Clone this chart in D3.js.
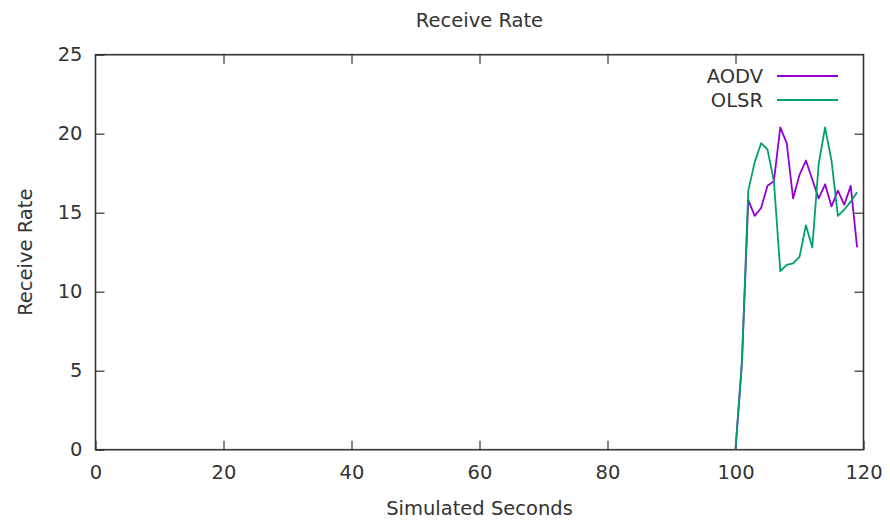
<!DOCTYPE html>
<html>
<head>
<meta charset="utf-8">
<script src="https://cdn.jsdelivr.net/npm/d3@7"></script>
<style>
  body { margin: 0; background: #fff; }
  text { font-family: "DejaVu Sans", sans-serif; fill: #333; }
</style>
</head>
<body>
<svg id="chart" width="890" height="521"></svg>
<script>
// data
const seconds = [100, 101, 102, 103, 104, 105, 106, 107, 108, 109, 110, 111, 112, 113, 114, 115, 116, 117, 118, 119];
const aodv = [0, 5.5, 15.8, 14.8, 15.3, 16.7, 17.0, 20.4, 19.4, 15.9, 17.4, 18.3, 17.1, 15.9, 16.8, 15.4, 16.4, 15.5, 16.7, 12.8];
const olsr = [0, 5.5, 16.4, 18.2, 19.4, 19.0, 17.0, 11.3, 11.7, 11.8, 12.2, 14.2, 12.8, 18.1, 20.4, 18.3, 14.8, 15.2, 15.7, 16.3];
const xTicks = [0, 20, 40, 60, 80, 100, 120];
const yTicks = [0, 5, 10, 15, 20, 25];
const seriesNames = ["AODV", "OLSR"];
const seriesColors = ["#9400d3", "#009e73"];

const svg = d3.select("#chart");
const pLeft = 95.5, pRight = 863.5, pTop = 54.7, pBottom = 449.7;
const fs = 19.5;

const x = d3.scaleLinear().domain([0, 120]).range([pLeft, pRight]);
const y = d3.scaleLinear().domain([0, 25]).range([pBottom, pTop]);
const tickLen = 9;

// frame with mirrored inward ticks
const axes = svg.append("g").attr("class", "axes");
axes.append("g").attr("transform", `translate(0,${pBottom})`)
  .call(d3.axisBottom(x).tickValues(xTicks).tickSizeInner(-tickLen).tickSizeOuter(0).tickPadding(15));
axes.append("g").attr("transform", `translate(0,${pTop})`)
  .call(d3.axisTop(x).tickValues(xTicks.slice(1, -1)).tickSizeInner(-tickLen).tickSizeOuter(0).tickFormat(""));
axes.append("g").attr("transform", `translate(${pLeft},0)`)
  .call(d3.axisLeft(y).tickValues(yTicks).tickSizeInner(-tickLen).tickSizeOuter(0).tickPadding(13));
axes.append("g").attr("transform", `translate(${pRight},0)`)
  .call(d3.axisRight(y).tickValues(yTicks.slice(1, -1)).tickSizeInner(-tickLen).tickSizeOuter(0).tickFormat(""));
axes.selectAll(".domain").remove();
axes.selectAll(".tick line").attr("stroke", "#333").attr("stroke-width", 1.2);
axes.selectAll(".tick text").attr("font-size", fs).attr("fill", "#333");

svg.append("rect")
  .attr("x", pLeft).attr("y", pTop)
  .attr("width", pRight - pLeft).attr("height", pBottom - pTop)
  .attr("fill", "none").attr("stroke", "#333").attr("stroke-width", 1.6);

// lines
const line = vals => d3.line().x((d, i) => x(seconds[i])).y(d => y(d))(vals);
[aodv, olsr].forEach((vals, i) => {
  svg.append("path")
    .attr("d", line(vals))
    .attr("fill", "none")
    .attr("stroke", seriesColors[i])
    .attr("stroke-width", 1.8)
    .attr("stroke-linejoin", "round");
});

// legend
seriesNames.forEach((name, i) => {
  const ly = 76 + i * 24;
  svg.append("text").attr("x", 763).attr("y", ly).attr("dy", "0.35em")
    .attr("text-anchor", "end").attr("font-size", fs).text(name);
  svg.append("line").attr("x1", 777).attr("x2", 838).attr("y1", ly).attr("y2", ly)
    .attr("stroke", seriesColors[i]).attr("stroke-width", 1.8);
});

// titles
svg.append("text").attr("x", (pLeft + pRight) / 2).attr("y", 20).attr("dy", "0.35em")
  .attr("text-anchor", "middle").attr("font-size", fs).text("Receive Rate");
svg.append("text").attr("x", (pLeft + pRight) / 2).attr("y", 508).attr("dy", "0.35em")
  .attr("text-anchor", "middle").attr("font-size", fs).text("Simulated Seconds");
svg.append("text").attr("transform", `translate(25,${(pTop + pBottom) / 2}) rotate(-90)`)
  .attr("dy", "0.35em").attr("text-anchor", "middle").attr("font-size", fs).text("Receive Rate");
</script>
</body>
</html>
